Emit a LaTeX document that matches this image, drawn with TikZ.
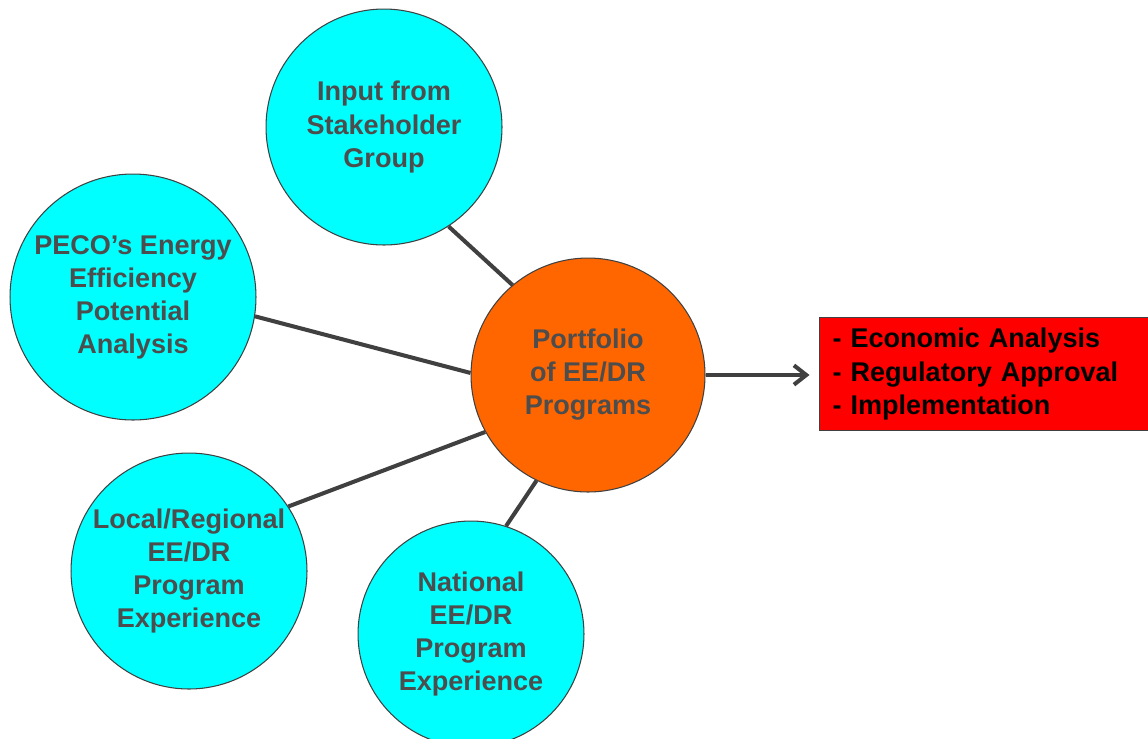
\documentclass[tikz,border=0pt]{standalone}
\usepackage{fontspec}
\setmainfont{Liberation Sans}
\usetikzlibrary{arrows.meta}
\definecolor{cyanfill}{RGB}{0,255,255}
\definecolor{orangefill}{RGB}{255,102,0}
\definecolor{redfill}{RGB}{255,0,0}
\definecolor{textgray}{RGB}{77,77,77}
\definecolor{linegray}{RGB}{64,64,64}
\begin{document}
\begin{tikzpicture}[x=0.02cm,y=-0.02cm,
  font=\bfseries\fontsize{15.4}{18.8}\selectfont]
  \useasboundingbox (0,0) rectangle (1148,738);
  \begin{scope}[every node/.style={circle,draw=linegray,line width=0.6pt,
      fill=cyanfill,text=textgray,align=center,inner sep=0pt}]
    \node[minimum size=4.72cm] (input) at (384,127) {Input from\\Stakeholder\\Group};
    \node[minimum size=4.92cm] (peco) at (133,297) {PECO’s Energy\\Efficiency\\Potential\\Analysis};
    \node[minimum size=4.72cm] (local) at (189,571) {Local/Regional\\EE/DR\\Program\\Experience};
    \node[minimum size=4.52cm] (national) at (471,634) {National\\EE/DR\\Program\\Experience};
    \node[minimum size=4.68cm,fill=orangefill] (portfolio) at (588,375) {Portfolio\\of EE/DR\\Programs};
  \end{scope}

  \node[draw=linegray,line width=0.6pt,fill=redfill,text=black,align=left,
    anchor=north west,minimum width=6.7cm,minimum height=2.26cm,
    inner xsep=0.26cm,text width=6.2cm] (steps) at (819,317)
    {- Economic Analysis\\- Regulatory Approval\\- Implementation};

  \begin{scope}[linegray,line width=2.3pt]
    \draw (input.-57) -- (portfolio.130);
    \draw (peco.-9) -- (portfolio.179);
    \draw (local.33) -- (portfolio.209);
    \draw (national.72) -- (portfolio.244);
    \draw[-{Straight Barb[length=7pt,width=11pt]}] (portfolio.east) -- ++(104,0) coordinate (arrowend);
  \end{scope}
\end{tikzpicture}
\end{document}
